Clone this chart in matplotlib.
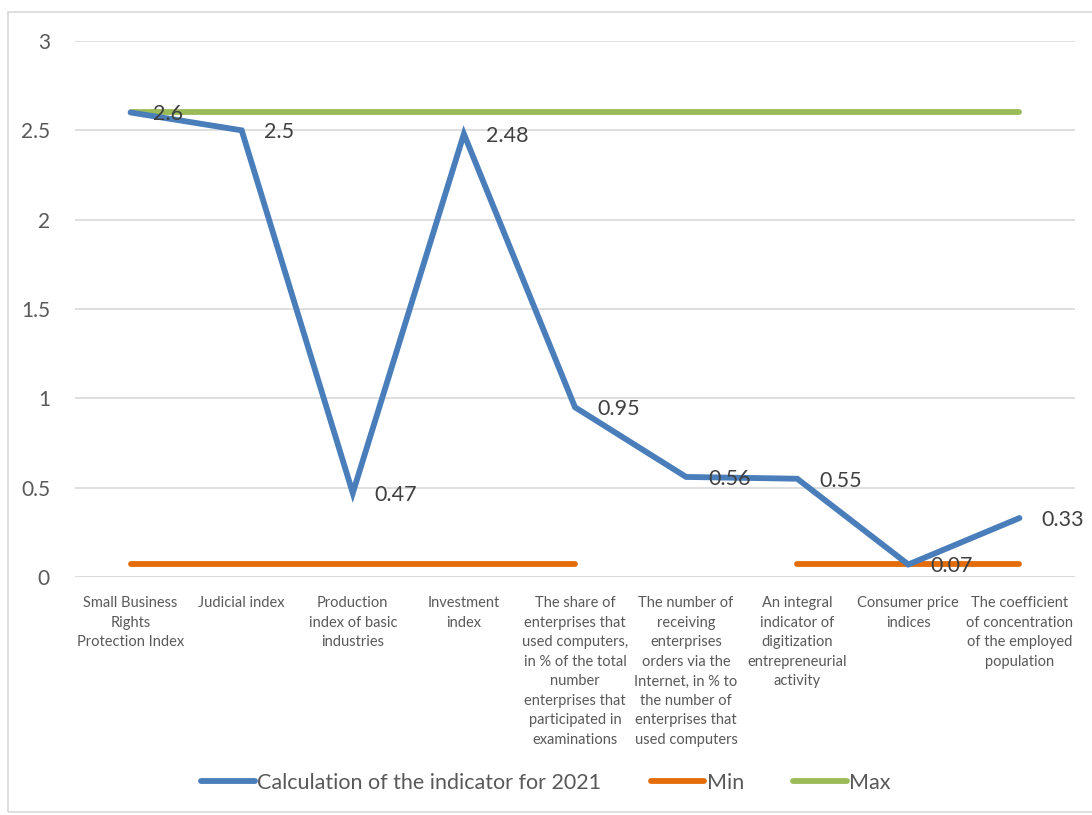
import matplotlib
matplotlib.use("Agg")
import matplotlib.pyplot as plt
from matplotlib.patches import Rectangle
import numpy as np

categories = [
    "Small Business\nRights\nProtection Index",
    "Judicial index",
    "Production\nindex of basic\nindustries",
    "Investment\nindex",
    "The share of\nenterprises that\nused computers,\nin % of the total\nnumber\nenterprises that\nparticipated in\nexaminations",
    "The number of\nreceiving\nenterprises\norders via the\nInternet, in % to\nthe number of\nenterprises that\nused computers",
    "An integral\nindicator of\ndigitization\nentrepreneurial\nactivity",
    "Consumer price\nindices",
    "The coefficient\nof concentration\nof the employed\npopulation",
]
calc_2021 = [2.6, 2.5, 0.47, 2.48, 0.95, 0.56, 0.55, 0.07, 0.33]
min_vals = [0.07, 0.07, 0.07, 0.07, 0.07, np.nan, 0.07, 0.07, 0.07]
max_vals = [2.6] * 9
yticks = [0, 0.5, 1, 1.5, 2, 2.5, 3]
ytick_labels = ["0", "0.5", "1", "1.5", "2", "2.5", "3"]

plt.rcParams['font.family'] = ['Lato', 'DejaVu Sans']
W, H = 1092, 815
fig = plt.figure(figsize=(W / 100, H / 100), dpi=100)
ax = fig.add_axes([75 / W, 1 - 577 / H, 1000 / W, (577 - 41) / H])

x = np.arange(len(categories))
c_blue, c_orange, c_green = "#4A7EBB", "#E46C0A", "#9BBB59"
ax.plot(x, max_vals, color=c_green, lw=4.2, solid_capstyle='round', label="Max", zorder=2)
ax.plot(x, min_vals, color=c_orange, lw=4.2, solid_capstyle='round', label="Min", zorder=2)
ax.plot(x, calc_2021, color=c_blue, lw=4.2, solid_capstyle='round', solid_joinstyle='miter',
        label="Calculation of the indicator for 2021", zorder=3)

for xi, v in zip(x, calc_2021):
    ax.annotate(f"{v:g}", (xi, v), xytext=(22, -2), textcoords='offset pixels',
                ha='left', va='center', fontsize=15.5, color='#404040', zorder=4)

ax.set_xlim(-0.5, len(categories) - 0.5)
ax.set_ylim(0, 3)
ax.set_yticks(yticks)
ax.set_yticklabels(ytick_labels, fontsize=15, color='#595959')
ax.set_xticks(x)
ax.set_xticklabels(categories, fontsize=10.5, color='#595959', linespacing=1.5, va='top')
ax.tick_params(axis='both', length=0)
ax.tick_params(axis='y', pad=18)
ax.tick_params(axis='x', pad=14)
ax.grid(axis='y', color='#D9D9D9', lw=1.2)
ax.set_axisbelow(True)
for s in ax.spines.values():
    s.set_visible(False)
ax.axhline(0, color='#D9D9D9', lw=1.2, zorder=1)

h, l = ax.get_legend_handles_labels()
order = [2, 1, 0]
leg = fig.legend([h[i] for i in order], [l[i] for i in order], loc='center',
                 bbox_to_anchor=(0.5, 1 - 783 / H), ncol=3, frameon=False, fontsize=15.5,
                 handlelength=2.5, handletextpad=0.1, columnspacing=2.3)
for t in leg.get_texts():
    t.set_color('#595959')

fig.patches.append(Rectangle((8 / W, 1 - 812 / H), (W - 6) / W, (812 - 12) / H,
                             transform=fig.transFigure, fill=False, edgecolor='#D9D9D9', lw=1.2))

fig.savefig("out.png", dpi=100)
